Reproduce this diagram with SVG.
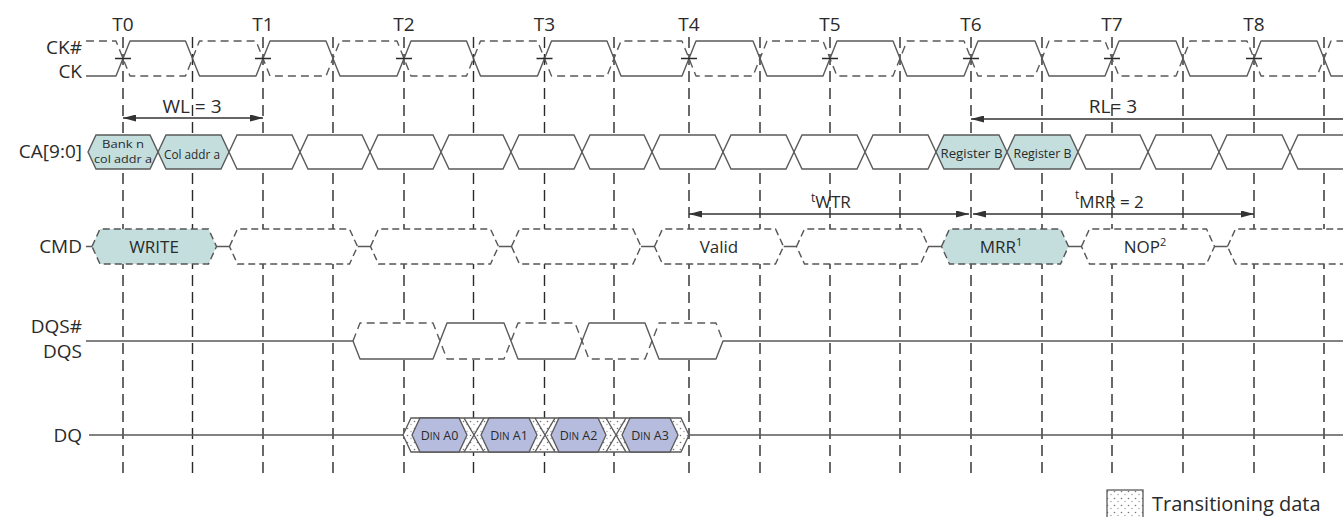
<svg xmlns="http://www.w3.org/2000/svg" width="1343" height="517" viewBox="0 0 1343 517">
<style>
  .ln{stroke:#5a5a5a;stroke-width:1.4;fill:none;stroke-linejoin:round}
  .dsh{stroke-dasharray:8 5}
  .vg{stroke:#2a2a2a;stroke-width:1.4;stroke-dasharray:11 6;fill:none}
  .tick{stroke:#2a2a2a;stroke-width:1.3}
  .wbox{fill:#fff;stroke:#5a5a5a;stroke-width:1.4}
  .tbox{fill:#c3dedd;stroke:#5a5a5a;stroke-width:1.4}
  .cbox{fill:#fff;stroke:#555;stroke-width:1.4;stroke-dasharray:7 4}
  .ctbox{fill:#c3dedd;stroke:#555;stroke-width:1.4;stroke-dasharray:7 4}
  .dbox{fill:#b6bcdd;stroke:#5a5a5a;stroke-width:1.3}
  .dim{stroke:#333;stroke-width:1.3;fill:none}
  text{font-family:"Open Sans","Noto Sans",sans-serif;fill:#2a2a2a}
  .lbl{font-size:19px}
  .lr{font-size:19px;text-anchor:end}
  .cmd{font-size:17px;text-anchor:middle}
  .ca{font-size:12px;text-anchor:middle}
  .ca2{font-size:11px;text-anchor:middle}
  .dq{font-size:12.5px;text-anchor:middle}
  .mid{text-anchor:middle}
</style>
<defs>
  <marker id="arr" viewBox="0 0 13 7" refX="13" refY="3.5" markerWidth="13" markerHeight="7" markerUnits="userSpaceOnUse" orient="auto-start-reverse">
    <path d="M0,0 L13,3.5 L0,7 z" fill="#333"/>
  </marker>
  <pattern id="dots" width="7" height="7" patternUnits="userSpaceOnUse">
    <rect width="7" height="7" fill="#fff"/>
    <circle cx="1.5" cy="1.5" r="0.8" fill="#777"/>
    <circle cx="5" cy="4.5" r="0.7" fill="#999"/>
  </pattern>
</defs>
<rect width="1343" height="517" fill="#fff"/>

<g id="gridlines" class="vg">
  <path d="M123 37V474M192.5 37V474M263 37V474M333 37V474M404 37V474M473.5 37V474M544.5 37V474M614 37V474M689 37V474M760 37V474M830 37V474M900 37V474M971 37V474M1042 37V474M1112 37V474M1183 37V474M1254 37V474M1324 37V474"/>
</g>

<g id="time-labels" class="lbl">
  <text x="123" y="31" class="mid">T0</text>
  <text x="263" y="31" class="mid">T1</text>
  <text x="404" y="31" class="mid">T2</text>
  <text x="544.5" y="31" class="mid">T3</text>
  <text x="689" y="31" class="mid">T4</text>
  <text x="830" y="31" class="mid">T5</text>
  <text x="971" y="31" class="mid">T6</text>
  <text x="1112" y="31" class="mid">T7</text>
  <text x="1254" y="31" class="mid">T8</text>
</g>

<g id="clock">
  <text x="82" y="54" class="lr">CK#</text>
  <text x="82" y="78" class="lr">CK</text>
  <path class="ln dsh" d="M86 41 L116 41 L130 76 L185.5 76 L199.5 41 L256 41 L270 76 L326 76 L340 41 L397 41 L411 76 L466.5 76 L480.5 41 L537.5 41 L551.5 76 L607 76 L621 41 L682 41 L696 76 L753 76 L767 41 L823 41 L837 76 L893 76 L907 41 L964 41 L978 76 L1035 76 L1049 41 L1105 41 L1119 76 L1176 76 L1190 41 L1247 41 L1261 76 L1317 76 L1331 41 L1343 41"/>
  <path class="ln" d="M86 76 L116 76 L130 41 L185.5 41 L199.5 76 L256 76 L270 41 L326 41 L340 76 L397 76 L411 41 L466.5 41 L480.5 76 L537.5 76 L551.5 41 L607 41 L621 76 L682 76 L696 41 L753 41 L767 76 L823 76 L837 41 L893 41 L907 76 L964 76 L978 41 L1035 41 L1049 76 L1105 76 L1119 41 L1176 41 L1190 76 L1247 76 L1261 41 L1317 41 L1331 76 L1343 76"/>
  <path class="tick" d="M115 58.5H131M255 58.5H271M396 58.5H412M536.5 58.5H552.5M681 58.5H697M822 58.5H838M963 58.5H979M1104 58.5H1120M1246 58.5H1262"/>
</g>

<g id="ca-row">
  <text x="82" y="158" class="lr">CA[9:0]</text>
  <polygon class="tbox" points="88,152 96,135 150,135 158,152 150,169 96,169"/>
  <polygon class="tbox" points="158,152 166,135 221,135 229,152 221,169 166,169"/>
  <polygon class="wbox" points="229,152 237,135 292,135 300,152 292,169 237,169"/>
  <polygon class="wbox" points="300,152 308,135 362,135 370,152 362,169 308,169"/>
  <polygon class="wbox" points="370,152 378,135 433,135 441,152 433,169 378,169"/>
  <polygon class="wbox" points="441,152 449,135 503,135 511,152 503,169 449,169"/>
  <polygon class="wbox" points="511,152 519,135 574,135 582,152 574,169 519,169"/>
  <polygon class="wbox" points="582,152 590,135 644,135 652,152 644,169 590,169"/>
  <polygon class="wbox" points="652,152 660,135 715,135 723,152 715,169 660,169"/>
  <polygon class="wbox" points="723,152 731,135 786,135 794,152 786,169 731,169"/>
  <polygon class="wbox" points="794,152 802,135 857,135 865,152 857,169 802,169"/>
  <polygon class="wbox" points="865,152 873,135 928,135 936,152 928,169 873,169"/>
  <polygon class="tbox" points="936,152 944,135 999,135 1007,152 999,169 944,169"/>
  <polygon class="tbox" points="1007,152 1015,135 1070,135 1078,152 1070,169 1015,169"/>
  <polygon class="wbox" points="1078,152 1086,135 1140,135 1148,152 1140,169 1086,169"/>
  <polygon class="wbox" points="1148,152 1156,135 1211,135 1219,152 1211,169 1156,169"/>
  <polygon class="wbox" points="1219,152 1227,135 1282,135 1290,152 1282,169 1227,169"/>
  <polygon class="wbox" points="1290,152 1298,135 1352,135 1352,169 1298,169"/>
  <text x="123" y="148" class="ca2" textLength="42" lengthAdjust="spacingAndGlyphs">Bank n</text>
  <text x="123" y="162.5" class="ca2" textLength="58" lengthAdjust="spacingAndGlyphs">col addr a</text>
  <text x="192" y="159" class="ca" textLength="56" lengthAdjust="spacingAndGlyphs">Col addr a</text>
  <text x="971.5" y="157.5" class="ca" textLength="62" lengthAdjust="spacingAndGlyphs">Register B</text>
  <text x="1042.5" y="157.5" class="ca" textLength="58" lengthAdjust="spacingAndGlyphs">Register B</text>
</g>

<g id="cmd-row">
  <text x="82" y="253" class="lr">CMD</text>
  <path class="ln" d="M86 246.5H92M216.5 246.5H229.5M357.5 246.5H370.5M498.5 246.5H511.5M641 246.5H654.5M783.5 246.5H796.5M928.5 246.5H941.5M1068.5 246.5H1081.5M1214.5 246.5H1227.5"/>
  <polygon class="ctbox" points="92,246.5 100,229 208.5,229 216.5,246.5 208.5,264 100,264"/>
  <polygon class="cbox" points="229.5,246.5 237.5,229 349.5,229 357.5,246.5 349.5,264 237.5,264"/>
  <polygon class="cbox" points="370.5,246.5 378.5,229 490.5,229 498.5,246.5 490.5,264 378.5,264"/>
  <polygon class="cbox" points="511.5,246.5 519.5,229 633,229 641,246.5 633,264 519.5,264"/>
  <polygon class="cbox" points="654.5,246.5 662.5,229 775.5,229 783.5,246.5 775.5,264 662.5,264"/>
  <polygon class="cbox" points="796.5,246.5 804.5,229 920.5,229 928.5,246.5 920.5,264 804.5,264"/>
  <polygon class="ctbox" points="941.5,246.5 949.5,229 1060.5,229 1068.5,246.5 1060.5,264 949.5,264"/>
  <polygon class="cbox" points="1081.5,246.5 1089.5,229 1206.5,229 1214.5,246.5 1206.5,264 1089.5,264"/>
  <polygon class="cbox" points="1227.5,246.5 1235.5,229 1352,229 1352,264 1235.5,264"/>
  <text x="154" y="253" class="cmd">WRITE</text>
  <text x="719" y="253" class="cmd">Valid</text>
  <text x="1001" y="253" class="cmd">MRR<tspan font-size="11" dy="-7">1</tspan></text>
  <text x="1145" y="253" class="cmd">NOP<tspan font-size="11" dy="-7">2</tspan></text>
</g>

<g id="dqs-row">
  <text x="82" y="333" class="lr">DQS#</text>
  <text x="82" y="358" class="lr">DQS</text>
  <polygon fill="#fff" points="353,341 360,323 716,323 723,341 716,359 360,359"/>
  <path class="ln dsh" d="M353 341 L360 323 L433 323 L447 359 L504 359 L518 323 L575 323 L589 359 L645 359 L659 323 L716 323 L723 341"/>
  <path class="ln" d="M86 341 L353 341 L360 359 L433 359 L447 323 L504 323 L518 359 L575 359 L589 323 L645 323 L659 359 L716 359 L723 341 L1343 341"/>
</g>

<g id="dq-row">
  <text x="82" y="442" class="lr">DQ</text>
  <path class="ln" d="M89 435H403M689 435H1343"/>
  <polygon fill="url(#dots)" stroke="#5a5a5a" stroke-width="1.3" points="403,435 411,418 681,418 689,435 681,452 411,452"/>
  <path class="ln" d="M464 418L484 452M464 452L484 418M535 418L555 452M535 452L555 418M606 418L626 452M606 452L626 418"/>
  <polygon class="dbox" points="412,435 420,418 459,418 467,435 459,452 420,452"/>
  <polygon class="dbox" points="481,435 489,418 529,418 537,435 529,452 489,452"/>
  <polygon class="dbox" points="551,435 559,418 598,418 606,435 598,452 559,452"/>
  <polygon class="dbox" points="622,435 630,418 670,418 678,435 670,452 630,452"/>
  <text x="439.5" y="440" class="dq">D<tspan font-size="10">IN</tspan> A0</text>
  <text x="509" y="440" class="dq">D<tspan font-size="10">IN</tspan> A1</text>
  <text x="578.5" y="440" class="dq">D<tspan font-size="10">IN</tspan> A2</text>
  <text x="650" y="440" class="dq">D<tspan font-size="10">IN</tspan> A3</text>
</g>

<g id="connectors">
  <line class="dim" x1="123" y1="118" x2="263" y2="118" marker-start="url(#arr)" marker-end="url(#arr)"/>
  <line class="dim" x1="971" y1="119" x2="1343" y2="119" marker-start="url(#arr)"/>
  <line class="dim" x1="689" y1="214" x2="969" y2="214" marker-start="url(#arr)" marker-end="url(#arr)"/>
  <line class="dim" x1="973" y1="214" x2="1254" y2="214" marker-start="url(#arr)" marker-end="url(#arr)"/>
</g>

<g id="timing-labels">
  <text x="192" y="113" class="lbl mid" font-size="17">WL = 3</text>
  <text x="1113" y="113" class="lbl mid" font-size="17">RL= 3</text>
  <text x="811" y="208" font-size="17"><tspan font-size="12" dy="-6">t</tspan><tspan dy="6">WTR</tspan></text>
  <text x="1075" y="208" font-size="17"><tspan font-size="12" dy="-9">t</tspan><tspan dy="9">MRR = 2</tspan></text>
</g>

<g id="legend">
  <rect x="1107" y="490" width="36" height="32" fill="url(#dots)" stroke="#5a5a5a" stroke-width="1.3"/>
  <text x="1152" y="511" font-size="20">Transitioning data</text>
</g>
</svg>
